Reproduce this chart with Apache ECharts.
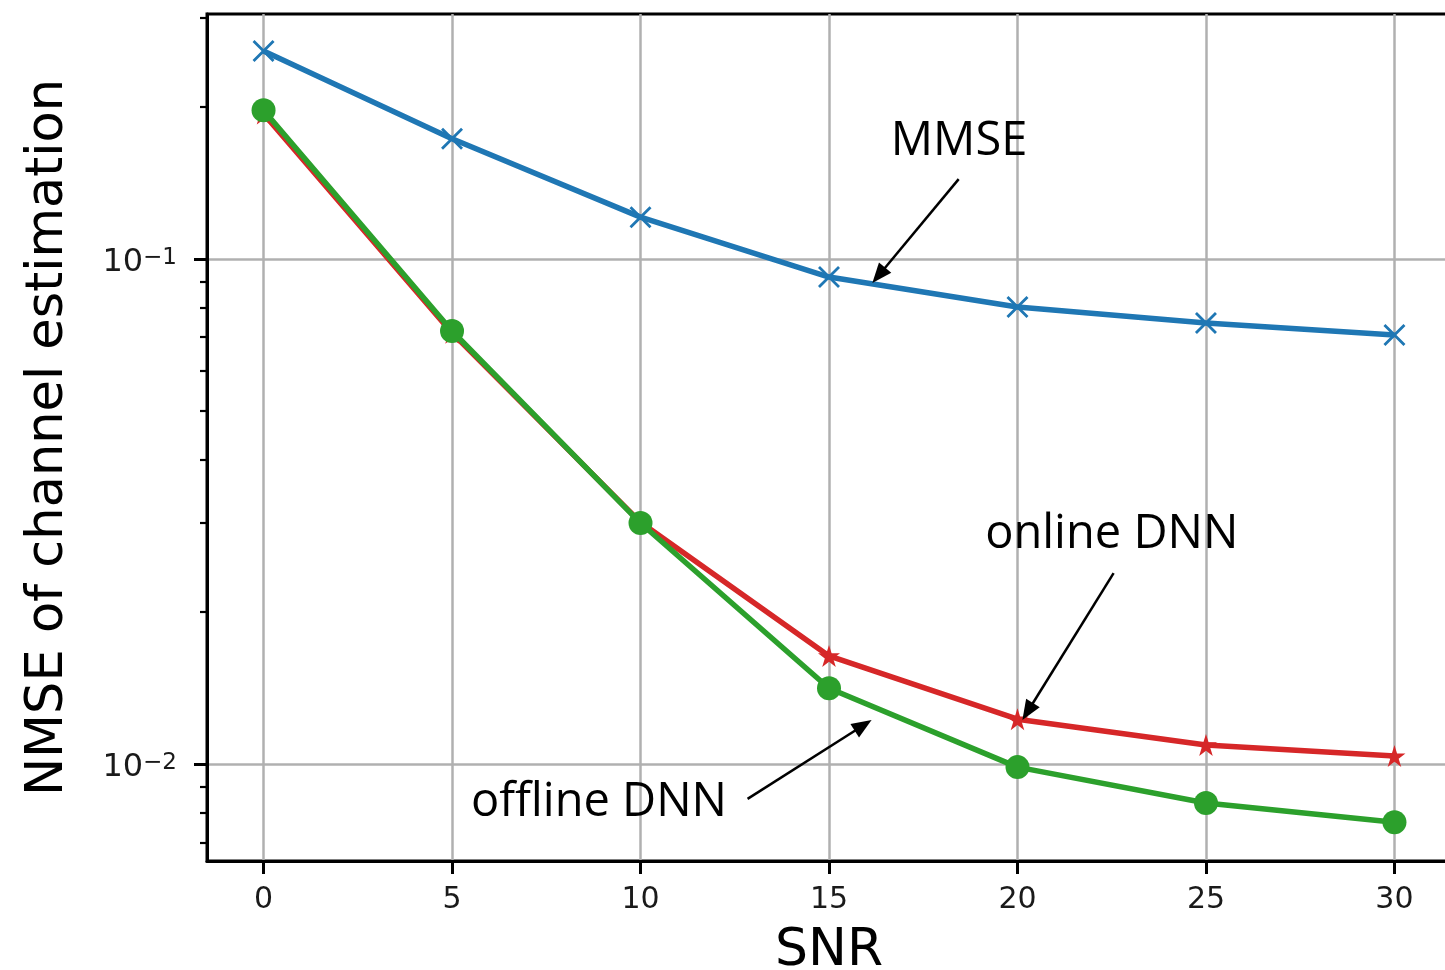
<!DOCTYPE html>
<html><head><meta charset="utf-8">
<script src="https://cdn.jsdelivr.net/npm/echarts@6/dist/echarts.min.js"></script>
<style>html,body{margin:0;padding:0;background:#fff}#c{width:1445px;height:970px}</style>
</head><body><div id="c"></div>
<script>
// ---- data ----
const snr = [0, 5, 10, 15, 20, 25, 30];
const mmse = [0.258, 0.173, 0.121, 0.0921, 0.0803, 0.0747, 0.0707];
const onlineDnn = [0.194, 0.0714, 0.0301, 0.01637, 0.01227, 0.01091, 0.01037];
const offlineDnn = [0.197, 0.0720, 0.0300, 0.01413, 0.00986, 0.00837, 0.00767];
const xTicks = [0, 5, 10, 15, 20, 25, 30];
const yMajorTicks = [0.01, 0.1];
const yMinorTicks = [0.007, 0.008, 0.009, 0.02, 0.03, 0.04, 0.05, 0.06, 0.07, 0.08, 0.09, 0.2, 0.3];
const xRange = [-1.5, 31.5];
const yRange = [0.006427, 0.3055];
const annotationText = ['MMSE', 'online DNN', 'offline DNN'];
const annotationTextAt = [[18.45, 0.1706], [22.5, 0.0284], [8.9, 0.00837]];
const arrowFrom = [[18.44, 0.1439], [22.55, 0.02388], [12.84, 0.00853]];
const arrowTo = [[16.15, 0.0896], [20.13, 0.01222], [16.13, 0.01222]];

// ---- chart ----
const lg = v => Math.log10(v);
const xSymbol = 'path://M0,0.9 L0.9,0 L5,4.1 L9.1,0 L10,0.9 L5.9,5 L10,9.1 L9.1,10 L5,5.9 L0.9,10 L0,9.1 L4.1,5 Z';
const starSymbol = 'path://M10,0 L12.245,6.91 L19.511,6.91 L13.633,11.18 L15.878,18.09 L10,13.82 L4.122,18.09 L6.367,11.18 L0.489,6.91 L7.755,6.91 Z';
const FONT = 'DejaVu Sans';

const chart = echarts.init(document.getElementById('c'), null, {renderer: 'canvas'});

function mkSeries(name, vals, color, symbol, size) {
  return {
    name, type: 'line', data: snr.map((x, i) => [x, lg(vals[i])]),
    symbol, symbolSize: size, showAllSymbol: true,
    lineStyle: {width: 5.5, color}, itemStyle: {color, borderWidth: 0},
    emphasis: {disabled: true}, z: 3
  };
}

chart.setOption({
  animation: false,
  backgroundColor: '#fff',
  grid: {left: 207, top: 14, width: 1244, height: 847, show: true, borderColor: '#000', borderWidth: 3,
    backgroundColor: 'transparent', containLabel: false, outerBoundsMode: 'none'},
  xAxis: {
    type: 'value', min: xRange[0], max: xRange[1],
    axisLine: {show: true, onZero: false, lineStyle: {color: '#000', width: 3}},
    axisTick: {show: true, customValues: xTicks, length: 13, lineStyle: {color: '#000', width: 3}},
    axisLabel: {customValues: xTicks, fontSize: 30, fontFamily: FONT, color: '#1a1a1a', margin: 24},
    splitLine: {show: true, lineStyle: {color: '#b0b0b0', width: 2.5}},
    name: 'SNR', nameLocation: 'middle', nameGap: 64,
    nameTextStyle: {fontSize: 52, fontFamily: FONT, color: '#000'}
  },
  yAxis: [{
    type: 'value', min: lg(yRange[0]), max: lg(yRange[1]),
    axisLine: {show: true, onZero: false, lineStyle: {color: '#000', width: 3}},
    axisTick: {show: true, customValues: yMajorTicks.map(lg), length: 13, lineStyle: {color: '#000', width: 3}},
    axisLabel: {
      customValues: yMajorTicks.map(lg), margin: 30, padding: [8, 0, 0, 0],
      formatter: v => '{b|10}{s|\u2212' + Math.round(-v) + '}',
      rich: {
        b: {fontSize: 32, fontFamily: FONT, color: '#1a1a1a', lineHeight: 32},
        s: {fontSize: 23, fontFamily: FONT, color: '#1a1a1a', verticalAlign: 'top', lineHeight: 23}
      }
    },
    splitLine: {show: true, lineStyle: {color: '#b0b0b0', width: 2.5}},
    name: 'NMSE of channel estimation', nameLocation: 'middle', nameGap: 133,
    nameTextStyle: {fontSize: 51, fontFamily: FONT, color: '#000'}
  }, {
    type: 'value', min: lg(yRange[0]), max: lg(yRange[1]), position: 'left', offset: 0,
    axisLine: {show: false, onZero: false},
    axisTick: {show: true, customValues: yMinorTicks.map(lg), length: 7, lineStyle: {color: '#000', width: 2.2}},
    axisLabel: {show: false},
    splitLine: {show: false}
  }],
  series: [
    mkSeries('MMSE', mmse, '#1f77b4', xSymbol, 22),
    mkSeries('online DNN', onlineDnn, '#d62728', starSymbol, 22),
    mkSeries('offline DNN', offlineDnn, '#2ca02c', 'circle', 24)
  ]
});

function toPx(p) { return chart.convertToPixel({gridIndex: 0}, [p[0], lg(p[1])]); }

const elements = [];
annotationText.forEach((t, i) => {
  const tp = toPx(annotationTextAt[i]);
  elements.push({type: 'text', x: tp[0], y: tp[1], z: 100,
    style: {text: t, fontSize: 47, fontFamily: 'Open Sans', fill: '#000', align: 'center', verticalAlign: 'middle'}});
  const p0 = toPx(arrowFrom[i]), p1 = toPx(arrowTo[i]);
  const dx = p1[0] - p0[0], dy = p1[1] - p0[1], L = Math.hypot(dx, dy);
  const ux = dx / L, uy = dy / L, hl = 20, hw = 8;
  const bx = p1[0] - ux * hl, by = p1[1] - uy * hl;
  elements.push({type: 'line', z: 100, shape: {x1: p0[0], y1: p0[1], x2: bx + ux * 2, y2: by + uy * 2},
    style: {stroke: '#000', lineWidth: 2.5}});
  elements.push({type: 'polygon', z: 100,
    shape: {points: [[p1[0], p1[1]], [bx - uy * hw, by + ux * hw], [bx + uy * hw, by - ux * hw]]},
    style: {fill: '#000'}});
});
chart.setOption({graphic: {elements}});
</script></body></html>
